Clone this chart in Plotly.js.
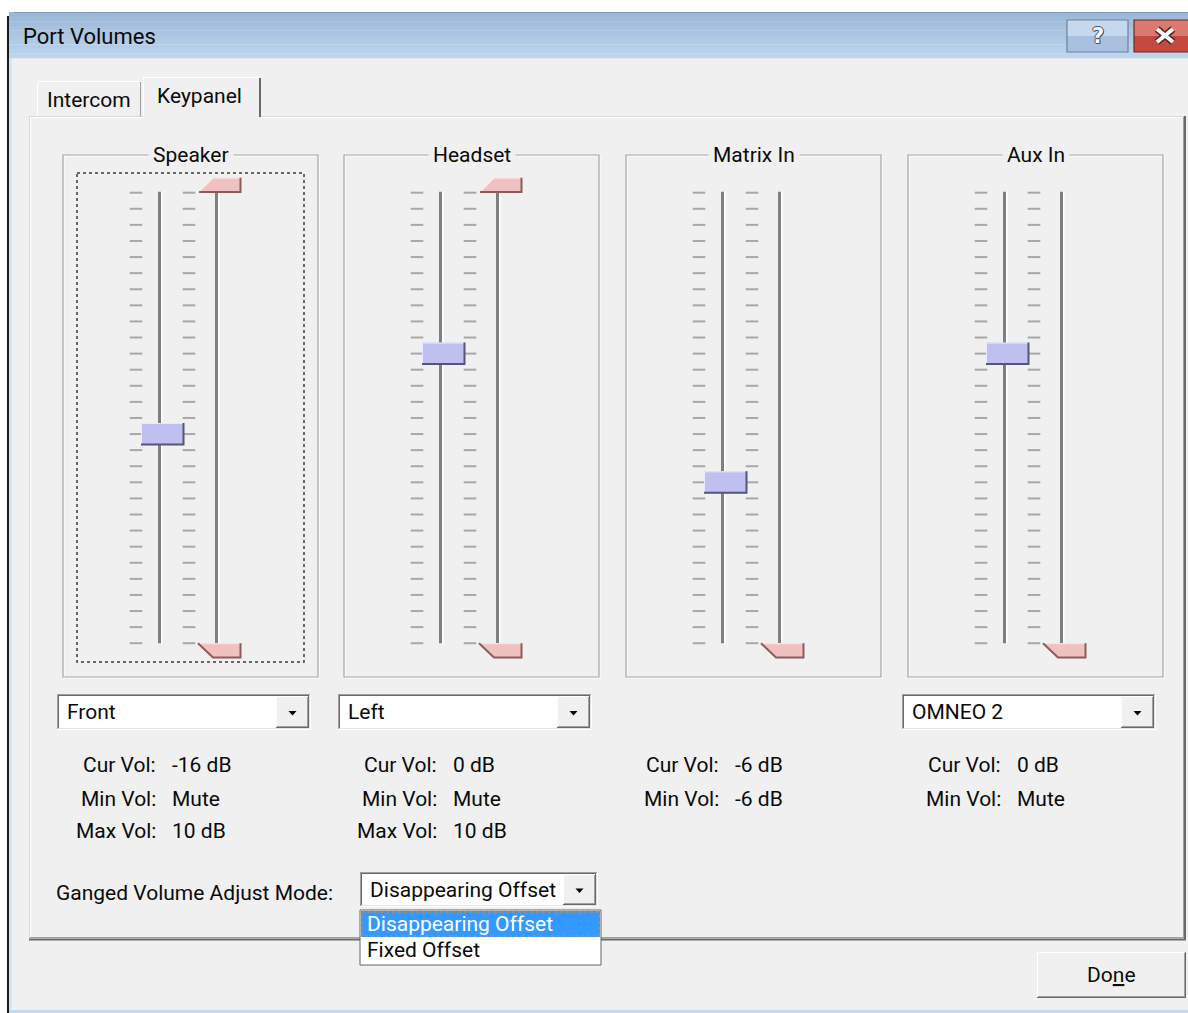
<!DOCTYPE html>
<html>
<head>
<meta charset="utf-8">
<script src="https://cdn.plot.ly/plotly-3.0.1.min.js"></script>
<style>html,body{margin:0;padding:0;background:#fff;}#chart{width:1188px;height:1013px;}</style>
</head>
<body>
<div id="chart"></div>
<script>
// ---------------- data ----------------
const groups        = ['Speaker', 'Headset', 'Matrix In', 'Aux In'];
const curVolStep    = [15, 10, 18, 10];          // slider position of current volume (0 = top)
const maxLimitStep  = [0, 0, null, null];        // upper limit marker
const minLimitStep  = [28, 28, 28, 28];          // lower limit marker
const stepCount     = 28;                        // slider steps (ticks 0..28)
const portChoice    = ['Front', 'Left', null, 'OMNEO 2'];
const curVolText    = ['-16 dB', '0 dB', '-6 dB', '0 dB'];
const minVolText    = ['Mute', 'Mute', '-6 dB', 'Mute'];
const maxVolText    = ['10 dB', '10 dB', null, null];
const tabNames      = ['Intercom', 'Keypanel'];
const gangedModes   = ['Disappearing Offset', 'Fixed Offset'];
const gangedLabel   = 'Ganged Volume Adjust Mode:';
const windowTitle   = 'Port Volumes';

// ---------------- layout helpers ----------------
const W = 1188, H = 1013;
const FONT = 'Roboto, "Noto Sans", sans-serif';
const FS = 21;
const STEP0_PX = 192.7, STEP_PX = 16.09;         // vertical scale of the slider axis
const py = y => 1 - y / H;
const BX = [63, 344, 626, 908];                  // group box left edges
const TX = BX.map(b => b + 97);                  // left slider track

const shapes = [], annotations = [], traces = [];
function rect(x0, y0, x1, y1, fill, lc, lw, dash) {
  shapes.push({type: 'rect', xref: 'x', yref: 'paper', x0: x0, x1: x1, y0: py(y0), y1: py(y1),
    fillcolor: fill || 'rgba(0,0,0,0)', line: {color: lc || 'rgba(0,0,0,0)', width: lw || 0, dash: dash || 'solid'}, layer: 'below'});
}
function line(x0, y0, x1, y1, c, w, dash) {
  shapes.push({type: 'line', xref: 'x', yref: 'paper', x0: x0, x1: x1, y0: py(y0), y1: py(y1),
    line: {color: c, width: w || 1, dash: dash || 'solid'}, layer: 'below'});
}
function path(pts, fill) {
  const d = pts.map((p, i) => (i ? 'L' : 'M') + p[0] + ',' + py(p[1])).join(' ') + ' Z';
  shapes.push({type: 'path', xref: 'x', yref: 'paper', path: d, fillcolor: fill, line: {width: 0}, layer: 'below'});
}
function txt(x, y, text, opt) {
  annotations.push(Object.assign({xref: 'x', yref: 'paper', x: x, y: py(y), text: text, showarrow: false,
    xanchor: 'left', yanchor: 'middle', borderpad: 0,
    font: {family: FONT, size: FS, color: '#0a0a0a'}}, opt || {}));
}
function raised(x0, y0, x1, y1) {
  rect(x0, y0, x1, y1, '#f0f0f0');
  line(x0, y0 + 0.5, x1, y0 + 0.5, '#ffffff', 1);
  line(x0 + 0.5, y0, x0 + 0.5, y1, '#ffffff', 1);
  line(x1 - 0.5, y0, x1 - 0.5, y1, '#696969', 1);
  line(x0, y1 - 0.5, x1, y1 - 0.5, '#696969', 1);
  line(x1 - 1.5, y0 + 1, x1 - 1.5, y1 - 1, '#a0a0a0', 1);
  line(x0 + 1, y1 - 1.5, x1 - 1, y1 - 1.5, '#a0a0a0', 1);
}
function arrow(cx, cy) {
  path([[cx - 4, cy - 2], [cx + 4, cy - 2], [cx, cy + 2.5]], '#000000');
}
function combo(x0, y0, x1, y1, text) {
  rect(x0, y0, x1, y1, '#ffffff');
  line(x0, y0 + 0.5, x1, y0 + 0.5, '#a0a0a0', 1);
  line(x0 + 0.5, y0, x0 + 0.5, y1, '#a0a0a0', 1);
  line(x0 + 1, y0 + 1.5, x1 - 1, y0 + 1.5, '#696969', 1);
  line(x0 + 1.5, y0 + 1, x0 + 1.5, y1 - 1, '#696969', 1);
  line(x1 - 0.5, y0, x1 - 0.5, y1, '#ffffff', 1);
  line(x0, y1 - 0.5, x1, y1 - 0.5, '#ffffff', 1);
  line(x1 - 1.5, y0 + 1, x1 - 1.5, y1 - 1, '#e3e3e3', 1);
  line(x0 + 1, y1 - 1.5, x1 - 1, y1 - 1.5, '#e3e3e3', 1);
  raised(x1 - 35, y0 + 2, x1 - 2, y1 - 2);
  arrow(x1 - 18.5, (y0 + y1) / 2 + 1);
  txt(x0 + 9, (y0 + y1) / 2, text);
}

// ---------------- window chrome ----------------
rect(0, 0, W, H, '#ffffff');
rect(9, 58, W, 1010, '#f0f0f0');
const tb0 = [0x9c, 0xb8, 0xd8], tb1 = [0xbc, 0xd4, 0xec];
for (let i = 0; i < 10; i++) {
  const f = i / 9, c = tb0.map((v, k) => Math.round(v + (tb1[k] - v) * f));
  rect(9, 12 + i * 4.6, W, 12 + (i + 1) * 4.6 + 0.3, 'rgb(' + c.join(',') + ')');
}
line(14, 12.5, W, 12.5, '#7d97b6', 1);
line(8, 16, 8, H, '#1a1a1a', 2);
line(10.5, 58, 10.5, 1010, '#cfdff0', 2);
line(9, 1011.5, W, 1011.5, '#c6d9ee', 3);
txt(22, 37, windowTitle, {font: {family: FONT, size: 22, color: '#0a0a0a'}});

// help button
rect(1067, 20, 1128, 36, '#c6d8ee');
rect(1067, 36, 1128, 52, '#a9c1de');
rect(1067, 20, 1128, 52, null, '#6c82a0', 1.2);
txt(1097.5, 36, '<b>?</b>', {xanchor: 'center', font: {family: 'DejaVu Sans', size: 21, color: '#f4f7fb',
  shadow: '1px 0 0 #4a5668, -1px 0 0 #4a5668, 0 1px 0 #4a5668, 0 -1px 0 #4a5668, 1px 1px 0 #4a5668'}});
// close button
rect(1134, 20, W, 36, '#d9796f');
rect(1134, 36, W, 52, '#c44a3f');
rect(1134, 20, W + 2, 52, null, '#6b2a26', 1.2);
line(1157, 29, 1173, 42, '#5b2320', 7);
line(1173, 29, 1157, 42, '#5b2320', 7);
line(1157, 29, 1173, 42, '#ffffff', 4);
line(1173, 29, 1157, 42, '#ffffff', 4);

// tab page
line(29, 116.5, 1185, 116.5, '#d8d8d8', 1);
line(30, 117.5, 1184, 117.5, '#ffffff', 1);
line(29.5, 116, 29.5, 939, '#d8d8d8', 1);
line(30.5, 117, 30.5, 938, '#ffffff', 1);
line(1185, 116, 1185, 940, '#696969', 2);
line(1183.5, 117, 1183.5, 938, '#a0a0a0', 1);
line(29, 939.5, 1186, 939.5, '#696969', 2);
line(30, 937.5, 1184, 937.5, '#a0a0a0', 1);
// tabs
rect(37, 81, 141, 116, '#f0f0f0');
line(37.5, 82, 37.5, 116, '#ffffff', 1);
line(38, 81.5, 140, 81.5, '#ffffff', 1);
line(140.5, 82, 140.5, 116, '#a0a0a0', 1);
rect(143, 76.5, 261, 119, '#f0f0f0');
line(143.5, 77, 143.5, 118, '#ffffff', 1);
line(144, 77.5, 259, 77.5, '#ffffff', 1);
line(260, 78, 260, 117, '#696969', 2);
txt(89, 100, tabNames[0], {xanchor: 'center'});
txt(199, 96, tabNames[1], {xanchor: 'center'});

// ---------------- slider groups ----------------
const tickX = [], tickY = [];
groups.forEach((g, i) => {
  const bx = BX[i], t = TX[i];
  // etched group box
  rect(bx + 1, 156, bx + 256, 678, null, '#ffffff', 1);
  rect(bx, 155, bx + 255, 677, null, '#a6a6a6', 1.2);
  txt(bx + 127.5, 155.5, g, {xanchor: 'center', bgcolor: '#f0f0f0', borderpad: 4});
  // tracks
  [t, t + 57].forEach(x => {
    shapes.push({type: 'rect', xref: 'x', yref: 'y', x0: x - 2, x1: x + 1, y0: -0.06, y1: stepCount,
      fillcolor: '#7f7f7f', line: {width: 0}, layer: 'below'});
    shapes.push({type: 'rect', xref: 'x', yref: 'y', x0: x + 1, x1: x + 2.5, y0: -0.06, y1: stepCount + 0.1,
      fillcolor: '#ffffff', line: {width: 0}, layer: 'below'});
  });
  for (let s = 0; s <= stepCount; s++) {
    tickX.push(t - 24, t + 29);
    tickY.push(s, s);
  }
  // combo + labels
  if (portChoice[i]) combo(bx - 6, 694, bx + 248, 730, portChoice[i]);
  const lx = bx + 94, vx = bx + 108;
  txt(lx, 765, 'Cur Vol:', {xanchor: 'right'});
  txt(vx, 765, curVolText[i]);
  txt(lx, 799, 'Min Vol:', {xanchor: 'right'});
  txt(vx, 799, minVolText[i]);
  if (maxVolText[i]) {
    txt(lx, 831, 'Max Vol:', {xanchor: 'right'});
    txt(vx, 831, maxVolText[i]);
  }
});
// focus rectangle on the first group
rect(77, 173, 304, 662, null, '#3a3a3a', 1.5, 'dot');

traces.push({type: 'scatter', mode: 'markers', x: tickX, y: tickY, hoverinfo: 'skip',
  marker: {symbol: 'line-ew', size: 9, line: {width: 2, color: '#a8a8a8'}}});

const TH = 11 / STEP_PX, PH = 15 / STEP_PX;
function poly(xs, ys, fill) {
  traces.push({type: 'scatter', mode: 'lines', x: xs, y: ys, fill: 'toself', fillcolor: fill,
    line: {width: 0, color: fill}, hoverinfo: 'skip'});
}
function edge(xs, ys, color, w) {
  traces.push({type: 'scatter', mode: 'lines', x: xs, y: ys, line: {width: w, color: color}, hoverinfo: 'skip'});
}
groups.forEach((g, i) => {
  const t = TX[i], s = curVolStep[i];
  // current volume thumb (blue)
  poly([t - 19, t + 24, t + 24, t - 19, t - 19], [s - TH, s - TH, s + TH, s + TH, s - TH], '#bfc0ef');
  edge([t - 18.5, t - 18.5, t + 23], [s + TH - 0.06, s - TH + 0.03, s - TH + 0.03], '#e9e9ff', 1);
  edge([t + 23.5, t + 23.5, t - 19], [s - TH, s + TH - 0.04, s + TH - 0.04], '#55557a', 2);
  // upper limit (pink, top)
  const m = maxLimitStep[i];
  if (m !== null) {
    poly([t + 39, t + 54, t + 81, t + 81, t + 39], [m, m - PH, m - PH, m, m], '#f1c1c1');
    edge([t + 54, t + 80], [m - PH + 0.03, m - PH + 0.03], '#fbe6e6', 1);
    edge([t + 80.5, t + 80.5, t + 39], [m - PH, m - 0.04, m - 0.04], '#8c5c5c', 2);
  }
  // lower limit (pink, bottom)
  const n = minLimitStep[i];
  if (n !== null) {
    poly([t + 38, t + 81, t + 81, t + 53, t + 38], [n, n, n + PH, n + PH, n], '#f1c1c1');
    edge([t + 38, t + 80], [n + 0.03, n + 0.03], '#fbe6e6', 1);
    edge([t + 80.5, t + 80.5, t + 53, t + 38], [n, n + PH - 0.04, n + PH - 0.04, n], '#8c5c5c', 2);
  }
});

// ---------------- ganged mode ----------------
txt(55, 893, gangedLabel);
combo(360, 872, 598, 907, gangedModes[0]);
rect(360, 910, 601, 965, '#ffffff', '#646464', 1);
rect(361, 911, 600, 937, '#3399ff');
rect(362, 912, 599, 936, null, '#d98a3a', 1, 'dot');
txt(366, 924, gangedModes[0], {font: {family: FONT, size: FS, color: '#ffffff'}});
txt(366, 950, gangedModes[1]);

// ---------------- done button ----------------
raised(1037, 952, 1186, 998);
txt(1111, 975, 'Do<u>n</u>e', {xanchor: 'center'});

const layout = {
  width: W, height: H, margin: {l: 0, r: 0, t: 0, b: 0, pad: 0},
  paper_bgcolor: '#ffffff', plot_bgcolor: 'rgba(0,0,0,0)', showlegend: false,
  xaxis: {range: [0, W], domain: [0, 1], visible: false, fixedrange: true},
  yaxis: {range: [(H - STEP0_PX) / STEP_PX, -STEP0_PX / STEP_PX], domain: [0, 1], visible: false, fixedrange: true},
  shapes: shapes, annotations: annotations
};
Plotly.newPlot('chart', traces, layout, {staticPlot: true, displayModeBar: false});
</script>
</body>
</html>
